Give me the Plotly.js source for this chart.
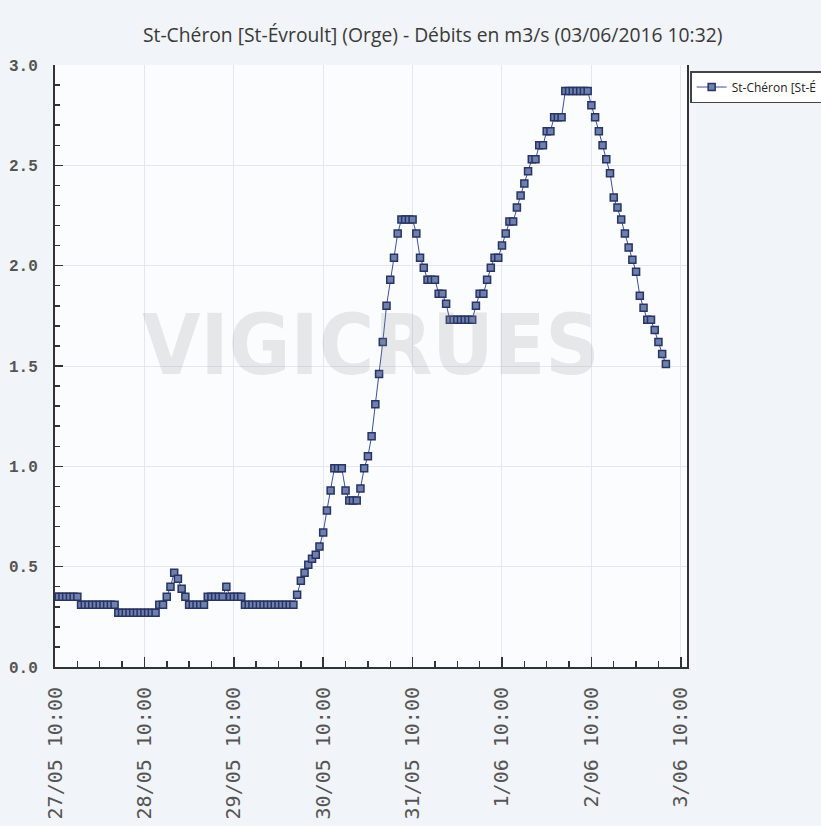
<!DOCTYPE html>
<html>
<head>
<meta charset="utf-8">
<script src="https://cdn.plot.ly/plotly-3.0.1.min.js"></script>
<style>html,body{margin:0;padding:0;background:#f1f4f8;}#chart{width:821px;height:826px;}</style>
</head>
<body>
<div id="chart"></div>
<script>
// Hourly flow values (m3/s) starting 27/05/2016 10:00
const startTime = '2016-05-27 10:00';
const flowValues = [
  0.35,0.35,0.35,0.35,0.35,0.35,0.35,
  0.31,0.31,0.31,0.31,0.31,0.31,0.31,0.31,0.31,0.31,
  0.27,0.27,0.27,0.27,0.27,0.27,0.27,0.27,0.27,0.27,0.27,
  0.31,0.31,0.35,0.40,0.47,0.44,0.39,0.35,
  0.31,0.31,0.31,0.31,0.31,
  0.35,0.35,0.35,0.35,0.35,
  0.40,
  0.35,0.35,0.35,0.35,
  0.31,0.31,0.31,0.31,0.31,0.31,0.31,0.31,0.31,0.31,0.31,0.31,0.31,0.31,
  0.36,0.43,0.47,0.51,0.54,0.56,0.60,0.67,0.78,0.88,
  0.99,0.99,0.99,0.88,0.83,0.83,0.83,0.89,0.99,1.05,1.15,1.31,1.46,1.62,1.80,1.93,2.04,2.16,
  2.23,2.23,2.23,2.23,2.16,2.04,1.99,1.93,1.93,1.93,1.86,1.86,1.81,
  1.73,1.73,1.73,1.73,1.73,1.73,1.73,
  1.80,1.86,1.86,1.93,1.99,2.04,2.04,2.10,2.16,2.22,2.22,2.29,2.35,2.41,2.47,2.53,2.53,2.60,2.60,2.67,2.67,
  2.74,2.74,2.74,
  2.87,2.87,2.87,2.87,2.87,2.87,2.87,
  2.80,2.74,2.67,2.60,2.53,2.46,2.34,2.29,2.23,2.16,2.09,2.03,1.97,1.85,1.79,1.73,1.73,1.68,1.62,1.56,1.51
];
const tickDates = ['2016-05-27 10:00','2016-05-28 10:00','2016-05-29 10:00','2016-05-30 10:00','2016-05-31 10:00','2016-06-01 10:00','2016-06-02 10:00','2016-06-03 10:00'];
const tickLabels = ['27/05 10:00','28/05 10:00','29/05 10:00','30/05 10:00','31/05 10:00','1/06 10:00','2/06 10:00','3/06 10:00'];
const yTickVals = [0,0.5,1,1.5,2,2.5,3];
const yTickLabels = ['0.0','0.5','1.0','1.5','2.0','2.5','3.0'];
const seriesName = 'St-Chéron [St-É';
const chartTitle = 'St-Chéron [St-Évroult] (Orge) - Débits en m3/s (03/06/2016 10:32)';

const trace = {
  type: 'scatter',
  mode: 'lines+markers',
  name: seriesName,
  x0: startTime,
  dx: 3600000,
  y: flowValues,
  line: {color: '#3d4f9a', width: 1},
  marker: {symbol: 'square', size: 7, color: '#6f80ad', line: {color: '#283463', width: 1.5}},
  showlegend: true
};

const layout = {
  width: 821, height: 826,
  margin: {l: 55, r: 134, t: 65, b: 159, autoexpand: false},
  paper_bgcolor: '#f1f4f8',
  plot_bgcolor: '#fbfcfd',
  title: {text: chartTitle, x: 0.527, xref: 'container', xanchor: 'center', y: 0.966, yref: 'container',
          font: {family: 'Open Sans', size: 19.3, color: '#3a3a3a'}},
  xaxis: {
    type: 'date',
    range: ['2016-05-27 10:00', '2016-06-03 11:40'],
    tickmode: 'array', tickvals: tickDates, ticktext: tickLabels,
    tickangle: -90,
    tickfont: {family: 'DejaVu Sans Mono', size: 20, color: '#555'},
    ticks: 'inside', ticklen: 10, tickwidth: 1.5, tickcolor: '#333',
    showline: true, linecolor: '#333', linewidth: 2,
    showgrid: true, gridcolor: '#e4e6ea', gridwidth: 1,
    zeroline: false,
    minor: {tickmode: 'linear', tick0: '2016-05-27 10:00', dtick: 21600000, ticks: 'inside', ticklen: 6, tickcolor: '#333', showgrid: false},
    ticklabelstandoff: 10
  },
  yaxis: {
    range: [0, 3],
    tickmode: 'array', tickvals: yTickVals, ticktext: yTickLabels,
    tickfont: {family: 'Liberation Mono', size: 16, color: '#555', weight: 'bold'},
    ticks: 'inside', ticklen: 8, tickwidth: 1.5, tickcolor: '#333',
    showline: true, linecolor: '#333', linewidth: 2, mirror: true,
    showgrid: true, gridcolor: '#e4e6ea', gridwidth: 1,
    zeroline: false,
    ticklabelstandoff: 12,
    minor: {tickmode: 'linear', tick0: 0, dtick: 0.1, ticks: 'inside', ticklen: 5, tickcolor: '#333', showgrid: false}
  },
  legend: {x: 1.005, xanchor: 'left', y: 0.99, yanchor: 'top',
           bgcolor: '#ffffff', bordercolor: '#444', borderwidth: 1.5,
           font: {family: 'Open Sans', size: 12, color: '#222'}, itemwidth: 30},
  annotations: [{
    text: 'VIGICRUES', xref: 'paper', yref: 'paper', x: 0.5, y: 0.535,
    showarrow: false, font: {family: 'DejaVu Sans Condensed', size: 84, weight: 'bold', color: 'rgba(150,150,150,0.2)'}
  }],
  showlegend: true
};

Plotly.newPlot('chart', [trace], layout, {displayModeBar: false, staticPlot: true});
</script>
</body>
</html>
